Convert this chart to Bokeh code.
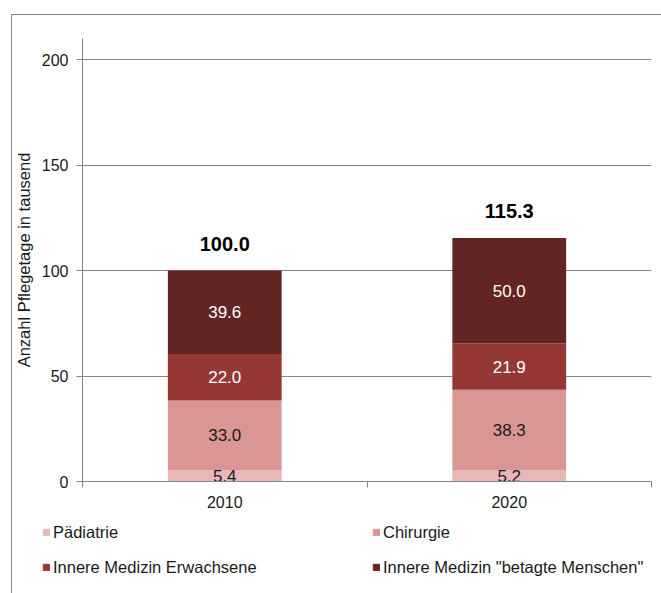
from bokeh.plotting import figure
from bokeh.models import (Range1d, FixedTicker, Legend, LegendItem,
                          ColumnDataSource, InlineStyleSheet)
from bokeh.core.properties import value
from bokeh.embed import file_html
from bokeh.resources import INLINE

years = ["2010", "2020"]
series = ["Pädiatrie", "Chirurgie", "Innere Medizin Erwachsene", 'Innere Medizin "betagte Menschen"']
paediatrie = [5.4, 5.2]
chirurgie = [33.0, 38.3]
innere_erw = [22.0, 21.9]
innere_betagt = [39.6, 50.0]
totals = [100.0, 115.3]
colors = ["#E6B8B7", "#DA9694", "#953735", "#632523"]
label_colors = ["#1a1a1a", "#1a1a1a", "#ffffff", "#ffffff"]
y_ticks = [0, 50, 100, 150, 200]

FONT = "Liberation Sans"
GRAY = "#868686"
BORDER = "#8c8c8c"

n = len(years)
centers = [i + 0.5 for i in range(n)]   # category centres on a 0..n axis

p = figure(width=661, height=512, x_range=Range1d(0, n),
           y_range=Range1d(0, 210), output_backend="svg", toolbar_location=None,
           min_border_left=82, min_border_right=10,
           min_border_top=38, min_border_bottom=31)
p.outline_line_color = None
p.xgrid.grid_line_color = None
p.ygrid.grid_line_color = GRAY
p.ygrid.ticker = FixedTicker(ticks=y_ticks)

data = {"x": centers, "years": years}
keys = ["p", "c", "e", "b"]
for k, vals in zip(keys, [paediatrie, chirurgie, innere_erw, innere_betagt]):
    data[k] = vals
src = ColumnDataSource(data)
renderers = p.vbar_stack(keys, x="x", width=0.4, color=colors, source=src, line_color=None)

# segment labels
bottoms = [0.0] * n
for k, vals, tc in zip(keys, [paediatrie, chirurgie, innere_erw, innere_betagt], label_colors):
    mids = [b + v / 2 for b, v in zip(bottoms, vals)]
    p.text(x=centers, y=mids, text=[f"{v:.1f}" for v in vals], text_align="center",
           text_baseline="middle", text_color=tc, text_font=value(FONT), text_font_size="17px")
    bottoms = [b + v for b, v in zip(bottoms, vals)]

p.text(x=centers, y=totals, text=[f"{t:.1f}" for t in totals], text_align="center",
       text_baseline="alphabetic", y_offset=-27, text_color="#000000", text_font=value(FONT),
       text_font_size="20px", text_font_style="bold")

# y axis
yax = p.yaxis[0]
yax.ticker = FixedTicker(ticks=y_ticks)
yax.axis_line_color = GRAY
yax.major_tick_line_color = GRAY
yax.major_tick_out = 6
yax.major_tick_in = 0
yax.minor_tick_line_color = None
yax.major_label_text_font = FONT
yax.major_label_text_font_size = "16px"
yax.major_label_text_color = "#1a1a1a"
yax.major_label_standoff = 8
yax.axis_label = "Anzahl Pflegetage in tausend"
yax.axis_label_text_font = FONT
yax.axis_label_text_font_size = "16.5px"
yax.axis_label_text_font_style = "normal"
yax.axis_label_text_color = "#1a1a1a"
yax.axis_label_standoff = 6

# x axis: labels at centres, tick marks at category boundaries
xax = p.xaxis[0]
xax.ticker = FixedTicker(ticks=centers, minor_ticks=list(range(n + 1)))
xax.major_label_overrides = {c: y for c, y in zip(centers, years)}
xax.axis_line_color = GRAY
xax.major_tick_line_color = None
xax.major_tick_out = 6
xax.major_tick_in = 0
xax.minor_tick_line_color = GRAY
xax.minor_tick_out = 6
xax.minor_tick_in = 0
xax.major_label_text_font = FONT
xax.major_label_text_font_size = "16px"
xax.major_label_text_color = "#1a1a1a"
xax.major_label_standoff = 8

p.stylesheets = [InlineStyleSheet(css=f"""
:host {{ position: relative; }}
:host::after {{ content: ''; position: absolute; left: 11px; top: 14px; right: 0; bottom: 0;
  border-left: 1px solid {BORDER}; border-top: 1px solid {BORDER}; pointer-events: none; }}
""")]

# legend strip below the chart (separate root so that it is not aligned to the chart frame)
lp = figure(width=661, height=81, x_range=Range1d(0, 1), y_range=Range1d(0, 1),
            output_backend="svg", toolbar_location=None,
            x_axis_location=None, y_axis_location=None,
            min_border_left=0, min_border_right=0, min_border_top=0, min_border_bottom=0)
lp.outline_line_color = None
lp.xgrid.grid_line_color = None
lp.ygrid.grid_line_color = None
nan = float("nan")
proxy = ColumnDataSource(dict(x=[nan], top=[nan]))
legend_renderers = [lp.vbar(x="x", top="top", width=0.1, color=c, source=proxy) for c in colors]

def make_legend(idx, x):
    items = [LegendItem(label=series[i], renderers=[legend_renderers[i]], index=0) for i in idx]
    lg = Legend(items=items, location=(x, 16), orientation="vertical",
                glyph_width=8, glyph_height=8, label_standoff=3, label_height=20,
                spacing=15, padding=0, margin=0, border_line_color=None,
                background_fill_alpha=0, label_text_font=FONT, label_text_font_size="16.5px",
                label_text_color="#1a1a1a")
    lp.add_layout(lg, "center")

make_legend([0, 2], 42)
make_legend([1, 3], 372)

lp.stylesheets = [InlineStyleSheet(css=f"""
:host {{ position: relative; }}
:host::after {{ content: ''; position: absolute; left: 11px; top: 0; right: 0; bottom: 0;
  border-left: 1px solid {BORDER}; pointer-events: none; }}
""")]

open("out.html", "w").write(file_html([p, lp], INLINE))
